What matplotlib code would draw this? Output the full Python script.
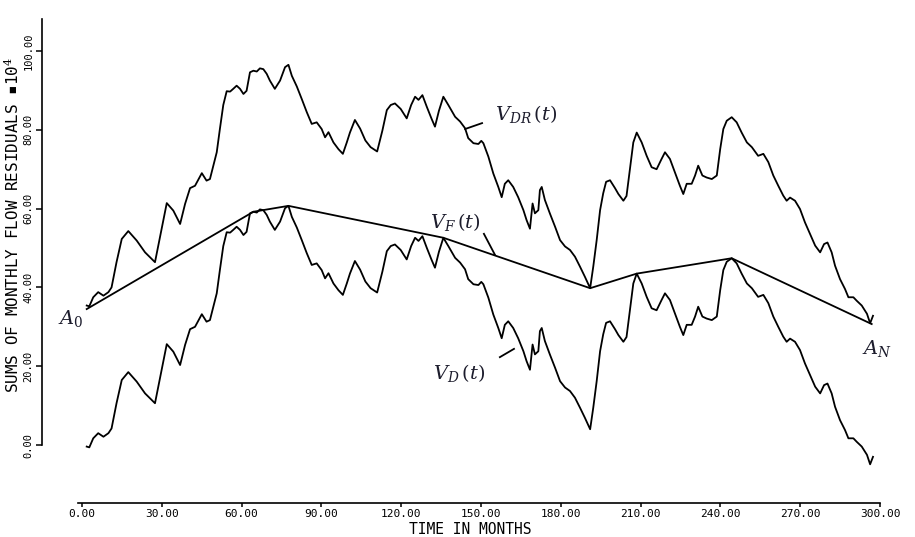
import matplotlib
matplotlib.use("Agg")
from matplotlib import pyplot as plt

# 月份与累计残差(单位 *10^4)
months = [0.0, 1.0, 2.5, 4.4, 6.4, 8.3, 9.5, 11.4, 13.4, 15.9,
          19.1, 22.3, 26.1, 28.0, 30.6, 33.1, 35.7, 37.6, 39.5, 41.4,
          44.0, 45.8, 47.1, 48.4, 49.7, 50.9, 52.2, 53.5, 54.8, 56.0,
          57.3, 58.6, 59.9, 61.1, 62.4, 63.7, 65.0, 66.2, 67.5, 68.8,
          70.0, 71.9, 73.9, 75.8, 77.1, 78.4, 80.3, 82.2, 84.1, 86.0,
          87.9, 89.8, 91.1, 92.4, 94.3, 96.2, 97.9, 99.4, 100.6, 102.5,
          104.5, 106.5, 108.5, 111.0, 113.0, 114.7, 116.2, 117.8, 120.0, 122.3,
          124.0, 125.5, 126.8, 128.3, 130.0, 131.8, 133.1, 134.6, 136.3, 138.2,
          140.8, 142.7, 144.6, 145.8, 147.8, 149.7, 150.8, 151.6, 153.5, 155.4,
          157.3, 158.6, 159.8, 161.1, 163.0, 164.9, 166.9, 168.1, 169.4, 170.4,
          171.3, 172.6, 173.2, 173.9, 175.1, 177.0, 179.0, 180.9, 182.8, 184.7,
          186.6, 188.5, 190.4, 192.4, 193.6, 194.9, 196.2, 197.4, 198.5, 200.0,
          201.9, 203.2, 205.1, 206.3, 207.6, 208.9, 210.2, 212.1, 214.0, 215.9,
          217.8, 219.7, 221.0, 222.9, 224.8, 226.7, 228.0, 229.3, 231.2, 232.5,
          233.7, 235.3, 236.9, 238.9, 240.8, 242.1, 243.3, 244.6, 246.5, 248.4,
          250.3, 252.3, 254.2, 256.6, 258.6, 260.5, 262.4, 264.3, 266.2, 267.5,
          268.8, 270.7, 272.6, 274.5, 276.4, 278.4, 280.3, 281.8, 283.1, 284.7,
          286.0, 287.9, 289.8, 291.1, 293.0, 294.3, 296.2, 298.2, 299.4, 300.5]

v_d = [-0.4, -0.6, 1.7, 3.0, 2.1, 3.0, 4.2, 10.6, 16.5, 18.5,
       16.1, 13.1, 10.6, 16.9, 25.6, 23.7, 20.3, 25.4, 29.4, 30.0,
       33.2, 31.3, 31.7, 35.1, 38.5, 44.4, 50.5, 54.0, 53.9, 54.6,
       55.4, 54.6, 53.3, 54.1, 58.8, 59.2, 59.0, 59.8, 59.6, 58.4,
       56.7, 54.6, 56.7, 60.1, 60.7, 57.9, 55.2, 52.0, 48.7, 45.7,
       46.1, 44.4, 42.3, 43.6, 41.0, 39.3, 38.1, 41.0, 43.5, 46.7,
       44.5, 41.5, 39.8, 38.7, 44.0, 49.2, 50.5, 50.9, 49.5, 47.1,
       50.5, 52.6, 51.8, 53.0, 50.0, 47.0, 45.0, 49.0, 52.6, 50.5,
       47.5, 46.3, 44.6, 42.1, 40.8, 40.6, 41.4, 40.8, 37.4, 33.1,
       29.7, 27.1, 30.5, 31.4, 29.7, 27.1, 23.8, 21.3, 19.1, 25.5,
       23.0, 23.8, 28.9, 29.7, 26.4, 23.0, 19.6, 16.2, 14.6, 13.7,
       12.0, 9.5, 6.9, 4.0, 9.5, 16.2, 23.8, 28.1, 31.0, 31.4,
       29.4, 27.9, 26.2, 27.4, 34.2, 41.0, 43.5, 41.0, 37.6, 34.7,
       34.2, 36.8, 38.5, 36.8, 33.4, 30.0, 27.9, 30.5, 30.5, 32.6,
       35.1, 32.6, 32.1, 31.7, 32.6, 39.3, 44.4, 46.5, 47.4, 46.1,
       43.5, 41.0, 39.8, 37.6, 38.1, 36.0, 32.6, 30.0, 27.5, 26.2,
       27.0, 26.2, 24.1, 20.7, 17.8, 14.8, 13.1, 15.2, 15.6, 13.1,
       9.7, 6.3, 3.8, 1.7, 1.7, 0.8, -0.4, -2.5, -4.9, -3.0]

v_dr = [35.4, 35.2, 37.5, 38.8, 37.9, 38.8, 40.0, 46.4, 52.3, 54.3,
        51.9, 48.9, 46.4, 52.7, 61.4, 59.5, 56.1, 61.2, 65.2, 65.8,
        69.0, 67.1, 67.5, 70.9, 74.3, 80.2, 86.3, 89.8, 89.7, 90.4,
        91.2, 90.4, 89.1, 89.9, 94.6, 95.0, 94.8, 95.6, 95.4, 94.2,
        92.5, 90.4, 92.5, 95.9, 96.5, 93.7, 91.0, 87.8, 84.5, 81.5,
        81.9, 80.2, 78.1, 79.4, 76.8, 75.1, 73.9, 76.8, 79.3, 82.5,
        80.3, 77.3, 75.6, 74.5, 79.8, 85.0, 86.3, 86.7, 85.3, 82.9,
        86.3, 88.4, 87.6, 88.8, 85.8, 82.8, 80.8, 84.8, 88.4, 86.3,
        83.3, 82.1, 80.4, 77.9, 76.6, 76.4, 77.2, 76.6, 73.2, 68.9,
        65.5, 62.9, 66.3, 67.2, 65.5, 62.9, 59.6, 57.1, 54.9, 61.3,
        58.8, 59.6, 64.7, 65.5, 62.2, 58.8, 55.4, 52.0, 50.4, 49.5,
        47.8, 45.3, 42.7, 39.8, 45.3, 52.0, 59.6, 63.9, 66.8, 67.2,
        65.2, 63.7, 62.0, 63.2, 70.0, 76.8, 79.3, 76.8, 73.4, 70.5,
        70.0, 72.6, 74.3, 72.6, 69.2, 65.8, 63.7, 66.3, 66.3, 68.4,
        70.9, 68.4, 67.9, 67.5, 68.4, 75.1, 80.2, 82.3, 83.2, 81.9,
        79.3, 76.8, 75.6, 73.4, 73.9, 71.8, 68.4, 65.8, 63.3, 62.0,
        62.8, 62.0, 59.9, 56.5, 53.6, 50.6, 48.9, 51.0, 51.4, 48.9,
        45.5, 42.1, 39.6, 37.5, 37.5, 36.6, 35.4, 33.3, 30.9, 32.8]

# V_F 折线的拐点
vf_months = [0.0, 63.7, 77.1, 136.3, 192.4, 210.2, 246.5, 300.0]
vf_values = [34.5, 59.2, 60.7, 52.6, 39.8, 43.5, 47.4, 30.7]

x_ticks = [0, 30, 60, 90, 120, 150, 180, 210, 240, 270, 300]
x_tick_labels = ["0.00", "30.00", "60.00", "90.00", "120.00", "150.00",
                 "180.00", "210.00", "240.00", "270.00", "300.00"]
y_ticks = [0, 20, 40, 60, 80, 100]
y_tick_labels = ["0.00", "20.00", "40.00", "60.00", "80.00", "100.00"]

plt.rcParams['mathtext.fontset'] = 'dejavuserif'
mono = 'DejaVu Sans Mono'
ink = '#1c1c2c'

fig = plt.figure(figsize=(9.15, 5.37), dpi=100)

# 主图: 三条曲线
ax = fig.add_axes([0.09475, 0.17132, 0.85792, 0.79237])
ax.set_xlim(0, 300)
ax.set_ylim(0, 108)
ax.patch.set_visible(False)
ax.plot(months, v_dr, color='black', lw=1.3, clip_on=False)
ax.plot(months, v_d, color='black', lw=1.3, clip_on=False)
ax.plot(vf_months, vf_values, color='black', lw=1.3, clip_on=False)

for side in ['top', 'right', 'bottom']:
    ax.spines[side].set_visible(False)
ax.spines['left'].set_position(('outward', 32.2))
ax.spines['left'].set_linewidth(1.2)
ax.set_xticks([])
ax.set_yticks(y_ticks)
ax.set_yticklabels(y_tick_labels, rotation=90, va='center',
                   fontsize=7.5, family=mono)
ax.tick_params(axis='y', direction='out', length=4, width=1.1, pad=2)

# 曲线标注
ax.text(156.0, 84.0, r'$V_{DR}\,(t)$', fontsize=14, color=ink, va='center')
ax.plot([144.6, 151.1], [80.2, 81.7], color='black', lw=1.3)
ax.text(131.2, 56.6, r'$V_{F}\,(t)$', fontsize=14, color=ink, va='center')
ax.plot([151.8, 156.0], [53.6, 48.3], color='black', lw=1.3)
ax.text(132.3, 18.3, r'$V_{D}\,(t)$', fontsize=14, color=ink, va='center')
ax.plot([157.9, 163.3], [22.3, 24.4], color='black', lw=1.3)
ax.text(-11.0, 32.0, r'$A_0$', fontsize=14, color=ink, va='center')
ax.text(296.3, 24.4, r'$A_N$', fontsize=14, color=ink, va='center',
        clip_on=False)

# 单独画的时间轴
ax2 = fig.add_axes([82 / 915, (537 - 503) / 537, 798 / 915, 0.001])
ax2.set_xlim(0, 300)
ax2.patch.set_visible(False)
for side in ['top', 'right', 'left']:
    ax2.spines[side].set_visible(False)
ax2.spines['bottom'].set_linewidth(1.2)
ax2.spines['bottom'].set_bounds(-1.5, 300)
ax2.set_yticks([])
ax2.set_xticks(x_ticks)
ax2.set_xticklabels(x_tick_labels, fontsize=8, family=mono)
ax2.tick_params(axis='x', direction='out', length=3, width=1.1, pad=1)

fig.text(470 / 915, (537 - 529.5) / 537, "TIME IN MONTHS", ha='center',
         va='center', fontsize=10.5, family=mono)
fig.text(12 / 915, (537 - 225) / 537,
         "SUMS OF MONTHLY FLOW RESIDUALS \u25aa10$^{4}$", rotation=90,
         ha='center', va='center', fontsize=11.5, family=mono)

plt.savefig('out.png', dpi=100)
